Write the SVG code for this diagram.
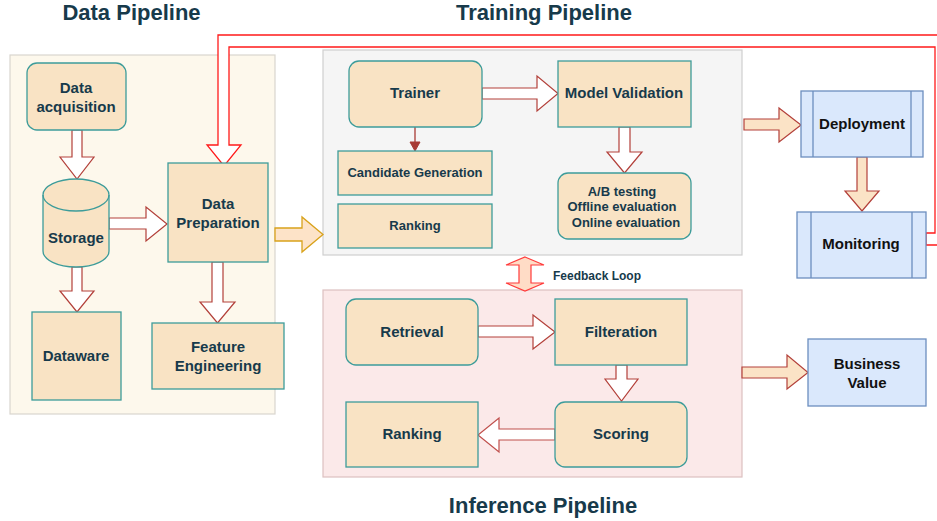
<svg xmlns="http://www.w3.org/2000/svg" width="937" height="521" viewBox="0 0 937 521">
<defs>
<style>
.t{font-family:"Liberation Sans",Arial,sans-serif;font-weight:bold;fill:#173a4b;text-anchor:middle}
.title{font-size:22px}
.l15{font-size:15px}
.l13{font-size:13px}
.l12{font-size:12px}
.blk{fill:#111}
.node{fill:#f9e3c4;stroke:#3d9c9a;stroke-width:1.3}
.blue{fill:#dae8fc;stroke:#6c8ebf;stroke-width:1.3}
.arr{fill:#fff;stroke:#b3403a;stroke-width:1.2;stroke-linejoin:miter}
.arrp{fill:#fbe3c6;stroke:#b3403a;stroke-width:1.2}
</style>
</defs>
<rect width="937" height="521" fill="#fff"/>

<g id="titles">
<text class="t title" x="131.5" y="20">Data Pipeline</text>
<text class="t title" x="544" y="20">Training Pipeline</text>
<text class="t title" x="543" y="513">Inference Pipeline</text>
</g>

<g id="containers">
<rect id="data-pipeline" x="10" y="55" width="265" height="359" fill="#fdf8ec" stroke="#d9d6cf" stroke-width="1.2"/>
<rect id="training-pipeline" x="323" y="50" width="419" height="205" fill="#f5f5f5" stroke="#cfcfcf" stroke-width="1.2"/>
<rect id="inference-pipeline" x="323" y="290" width="419" height="187" fill="#fbe9e9" stroke="#dcc0c0" stroke-width="1.2"/>
</g>

<g id="connectors">
<path id="feedback-red" d="M926,233 L935,233 L935,47 L229,47 L229,145 L241,145 L224,166 L207,145 L218,145 L218,35 L950,35 L950,245 L926,245 Z" fill="#fff" stroke="#ff1a1a" stroke-width="1.3"/>
<path class="arr" d="M72,130 L82,130 L82,157 L94,157 L77,179 L60,157 L72,157 Z"/>
<path class="arr" d="M72,267 L82,267 L82,291 L94,291 L77,312 L60,291 L72,291 Z"/>
<path class="arr" d="M109,218 L146,218 L146,207 L167,224 L146,241 L146,229 L109,229 Z"/>
<path class="arr" d="M212,262 L223,262 L223,302 L235,302 L217.5,323 L200,302 L212,302 Z"/>
<path d="M275,228 L302,228 L302,217 L323,234.5 L302,252 L302,241 L275,241 Z" fill="#fde3c8" stroke="#d9a21b" stroke-width="1.3"/>
<path class="arr" d="M482,88 L537,88 L537,76 L558,93.5 L537,111 L537,99 L482,99 Z"/>
<path class="arr" d="M619,127 L630,127 L630,152 L642,152 L624.5,173 L607,152 L619,152 Z"/>
<path d="M415,127 L415,143" stroke="#a83a34" stroke-width="1.3" fill="none"/>
<path d="M410,142 L420,142 L415,151 Z" fill="#a83a34" stroke="#a83a34"/>
<path d="M525,257 L544,265 L531,265 L531,283 L544,283 L525,291 L506,283 L519,283 L519,265 L506,265 Z" fill="#ffdcc6" stroke="#ff3b3b" stroke-width="1.2"/>
<path class="arr" d="M478,326 L533,326 L533,315 L555,332 L533,349 L533,337 L478,337 Z"/>
<path class="arr" d="M616,365 L627,365 L627,379 L638,379 L621.5,401 L605,379 L616,379 Z"/>
<path class="arr" d="M555,429 L499,429 L499,418 L478,435 L499,452 L499,440 L555,440 Z" style="stroke:#c0504d"/>
<path class="arrp" d="M744,119 L779,119 L779,108 L801,125 L779,142 L779,130 L744,130 Z"/>
<path class="arrp" d="M857,157 L867,157 L867,191 L879,191 L862,211 L845,191 L857,191 Z"/>
<path class="arrp" d="M742,367 L787,367 L787,355 L808,372.5 L787,389 L787,378 L742,378 Z"/>
</g>

<g id="data-acquisition">
<rect class="node" x="27" y="63" width="99" height="67" rx="10"/>
<text class="t l15" x="76" y="93">Data</text>
<text class="t l15" x="76" y="112">acquisition</text>
</g>
<g id="storage">
<path class="node" d="M43,195 A33,16 0 0 1 109,195 L109,251 A33,16 0 0 1 43,251 Z"/>
<path d="M43,195 A33,16 0 0 0 109,195" fill="none" stroke="#3d9c9a" stroke-width="1.3"/>
<text class="t l15" x="76" y="243">Storage</text>
</g>
<g id="data-preparation">
<rect class="node" x="168" y="163" width="100" height="99"/>
<text class="t l15" x="218" y="209">Data</text>
<text class="t l15" x="218" y="228">Preparation</text>
</g>
<g id="dataware">
<rect class="node" x="32" y="312" width="89" height="88"/>
<text class="t l15" x="76" y="361">Dataware</text>
</g>
<g id="feature-engineering">
<rect class="node" x="152" y="323" width="132" height="66"/>
<text class="t l15" x="218" y="352">Feature</text>
<text class="t l15" x="218" y="371">Engineering</text>
</g>

<g id="trainer">
<rect class="node" x="349" y="61" width="133" height="66" rx="10"/>
<text class="t l15" x="415" y="98">Trainer</text>
</g>
<g id="model-validation">
<rect class="node" x="558" y="61" width="133" height="66"/>
<text class="t l15" x="624" y="98">Model Validation</text>
</g>
<g id="candidate-generation">
<rect class="node" x="338" y="151" width="154" height="44"/>
<text class="t l13" x="415" y="177">Candidate Generation</text>
</g>
<g id="ranking-training">
<rect class="node" x="338" y="204" width="154" height="44"/>
<text class="t l13" x="415" y="230">Ranking</text>
</g>
<g id="ab-testing">
<rect class="node" x="558" y="173" width="133" height="66" rx="10"/>
<text class="t l13" x="622" y="196">A/B testing</text>
<text class="t l13" x="622" y="211">Offline evaluation</text>
<text class="t l13" x="626" y="227">Online evaluation</text>
</g>
<g id="feedback-label">
<text class="t l12" x="553" y="280" style="text-anchor:start">Feedback Loop</text>
</g>

<g id="retrieval">
<rect class="node" x="346" y="299" width="132" height="66" rx="10"/>
<text class="t l15" x="412" y="337">Retrieval</text>
</g>
<g id="filteration">
<rect class="node" x="555" y="299" width="132" height="66"/>
<text class="t l15" x="621" y="337">Filteration</text>
</g>
<g id="scoring">
<rect class="node" x="555" y="402" width="132" height="65" rx="10"/>
<text class="t l15" x="621" y="439">Scoring</text>
</g>
<g id="ranking-inference">
<rect class="node" x="346" y="402" width="132" height="65"/>
<text class="t l15" x="412" y="439">Ranking</text>
</g>

<g id="deployment">
<rect class="blue" x="801" y="91" width="122" height="66"/>
<path d="M813,91 V157 M911,91 V157" stroke="#6c8ebf" stroke-width="1.3"/>
<text class="t l15 blk" x="862" y="129">Deployment</text>
</g>
<g id="monitoring">
<rect class="blue" x="797" y="212" width="129" height="66"/>
<path d="M811,212 V278 M912,212 V278" stroke="#6c8ebf" stroke-width="1.3"/>
<text class="t l15 blk" x="861" y="249">Monitoring</text>
</g>
<g id="business-value">
<rect class="blue" x="808" y="339" width="118" height="67"/>
<text class="t l15 blk" x="867" y="369">Business</text>
<text class="t l15 blk" x="867" y="388">Value</text>
</g>
</svg>
